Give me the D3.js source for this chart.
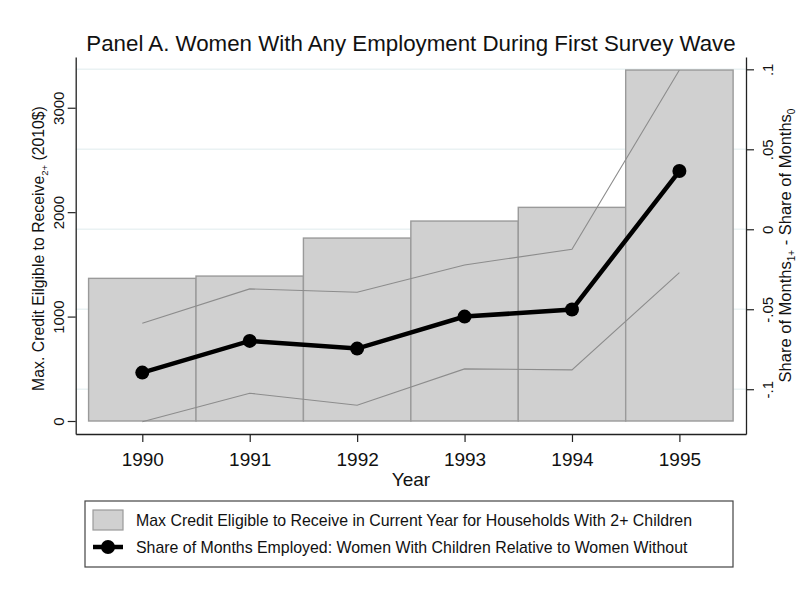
<!DOCTYPE html>
<html>
<head>
<meta charset="utf-8">
<script src="https://cdn.jsdelivr.net/npm/d3@7"></script>
<style>
  body { margin: 0; background: #fff; }
  text { font-family: "Liberation Sans", Arial, sans-serif; fill: #111; }
</style>
</head>
<body>
<svg id="chart" width="805" height="594"></svg>
<script>
// data
const years = [1990, 1991, 1992, 1993, 1994, 1995];
const maxCredit = [1366, 1388, 1752, 1915, 2046, 3361];
const shareDiff = [-0.0896, -0.0698, -0.0746, -0.0546, -0.0502, 0.0364];
const ciUpper = [-0.0588, -0.0373, -0.0394, -0.0223, -0.0125, 0.0996];
const ciLower = [-0.1203, -0.1025, -0.1100, -0.0873, -0.0879, -0.0271];
const leftTicks = [0, 1000, 2000, 3000];
const rightTicks = [-0.1, -0.05, 0, 0.05, 0.1];
const rightTickLabels = ['-.1', '-.05', '0', '.05', '.1'];

const svg = d3.select('#chart');
const plot = { left: 75.7, right: 746, top: 57, bottom: 434 };

const x = d3.scaleLinear().domain([1989.38, 1995.62]).range([plot.left, plot.right]);
const yL = d3.scaleLinear().domain([-124.5, 3486]).range([plot.bottom, plot.top]);
const yR = d3.scaleLinear().domain([-0.128, 0.1077]).range([plot.bottom, plot.top]);

// title
svg.append('text')
    .attr('x', 411).attr('y', 51)
    .attr('text-anchor', 'middle')
    .style('font-size', '22.3px')
    .text('Panel A. Women With Any Employment During First Survey Wave');

// gridlines (follow right axis)
svg.append('g')
    .selectAll('line')
    .data(rightTicks)
    .join('line')
    .attr('x1', plot.left).attr('x2', plot.right)
    .attr('y1', d => yR(d)).attr('y2', d => yR(d))
    .attr('stroke', '#eaf2f3')
    .attr('stroke-width', 1.5);

// bars
const data = years.map((yr, i) => ({ yr, credit: maxCredit[i], share: shareDiff[i], hi: ciUpper[i], lo: ciLower[i] }));
svg.append('g')
    .selectAll('rect')
    .data(data)
    .join('rect')
    .attr('x', d => x(d.yr - 0.5))
    .attr('width', d => x(d.yr + 0.5) - x(d.yr - 0.5))
    .attr('y', d => yL(d.credit))
    .attr('height', d => yL(0) - yL(d.credit))
    .attr('fill', '#d0d0d0')
    .attr('stroke', '#9a9a9a')
    .attr('stroke-width', 1.4);

// CI lines
const ciLine = key => d3.line().x(d => x(d.yr)).y(d => yR(d[key]));
['hi', 'lo'].forEach(k => {
    svg.append('path')
        .datum(data)
        .attr('d', ciLine(k))
        .attr('fill', 'none')
        .attr('stroke', '#8c8c8c')
        .attr('stroke-width', 1.1);
});

// main line
svg.append('path')
    .datum(data)
    .attr('d', ciLine('share'))
    .attr('fill', 'none')
    .attr('stroke', '#000')
    .attr('stroke-width', 4.5);
svg.append('g')
    .selectAll('circle')
    .data(data)
    .join('circle')
    .attr('cx', d => x(d.yr))
    .attr('cy', d => yR(d.share))
    .attr('r', 7)
    .attr('fill', '#000');

// axes
const axisStyle = g => {
    g.selectAll('.domain').attr('stroke', '#222').attr('stroke-width', 1.3);
    g.selectAll('.tick line').attr('stroke', '#222').attr('stroke-width', 1.2);
};

const xAxis = svg.append('g')
    .attr('transform', `translate(0,${plot.bottom})`)
    .call(d3.axisBottom(x).tickValues(years).tickFormat(d3.format('d')).tickSize(8).tickSizeOuter(0))
    .call(axisStyle);
xAxis.selectAll('.tick text')
    .attr('dy', 0).attr('y', 32)
    .style('font-size', '19px');

const lAxis = svg.append('g')
    .attr('transform', `translate(${plot.left},0)`)
    .call(d3.axisLeft(yL).tickValues(leftTicks).tickFormat(d3.format('d')).tickSize(8).tickSizeOuter(0))
    .call(axisStyle);
lAxis.selectAll('.tick text')
    .attr('x', 0).attr('dy', 0)
    .attr('text-anchor', 'middle')
    .attr('transform', 'translate(-12,0) rotate(-90)')
    .style('font-size', '15px');

const rAxis = svg.append('g')
    .attr('transform', `translate(${plot.right},0)`)
    .call(d3.axisRight(yR).tickValues(rightTicks).tickFormat((d, i) => rightTickLabels[i]).tickSize(8).tickSizeOuter(0))
    .call(axisStyle);
rAxis.selectAll('.tick text')
    .attr('x', 0).attr('dy', 0)
    .attr('text-anchor', 'middle')
    .attr('transform', 'translate(27,0) rotate(-90)')
    .style('font-size', '15px');

// axis titles
svg.append('text')
    .attr('x', 411).attr('y', 486)
    .attr('text-anchor', 'middle')
    .style('font-size', '19px')
    .text('Year');

const lt = svg.append('text')
    .attr('transform', `translate(44,${(plot.top + plot.bottom) / 2 + 3}) rotate(-90)`)
    .attr('text-anchor', 'middle')
    .style('font-size', '15.8px');
lt.append('tspan').text('Max. Credit Eilgible to Receive');
lt.append('tspan').attr('dy', 4).style('font-size', '9.5px').text('2+');
lt.append('tspan').attr('dy', -4).text(' (2010$)');

const rt = svg.append('text')
    .attr('transform', `translate(791,${(plot.top + plot.bottom) / 2}) rotate(-90)`)
    .attr('text-anchor', 'middle')
    .style('font-size', '16.5px');
rt.append('tspan').text('Share of Months');
rt.append('tspan').attr('dy', 4).style('font-size', '10px').text('1+');
rt.append('tspan').attr('dy', -4).text(' - Share of Months');
rt.append('tspan').attr('dy', 4).style('font-size', '10px').text('0');

// legend
const lg = svg.append('g');
lg.append('rect')
    .attr('x', 85).attr('y', 501).attr('width', 648).attr('height', 66)
    .attr('fill', '#fff').attr('stroke', '#444').attr('stroke-width', 1.2);
lg.append('rect')
    .attr('x', 93).attr('y', 510).attr('width', 30).attr('height', 20)
    .attr('fill', '#d0d0d0').attr('stroke', '#9a9a9a').attr('stroke-width', 1.2);
lg.append('line')
    .attr('x1', 93).attr('x2', 123).attr('y1', 547).attr('y2', 547)
    .attr('stroke', '#000').attr('stroke-width', 4.5);
lg.append('circle').attr('cx', 108).attr('cy', 547).attr('r', 7).attr('fill', '#000');
lg.append('text').attr('x', 136).attr('y', 526).style('font-size', '15.9px')
    .text('Max Credit Eligible to Receive in Current Year for Households With 2+ Children');
lg.append('text').attr('x', 136).attr('y', 553).style('font-size', '15.9px')
    .text('Share of Months Employed: Women With Children Relative to Women Without');
</script>
</body>
</html>
